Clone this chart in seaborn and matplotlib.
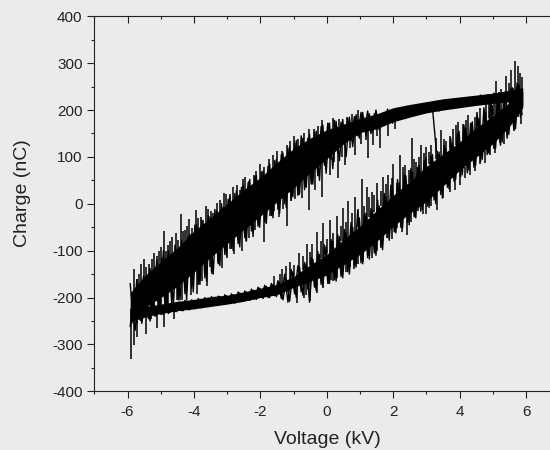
import matplotlib
matplotlib.use("Agg")
import matplotlib.pyplot as plt
from matplotlib.ticker import MultipleLocator
import seaborn as sns

# voltage grids, one entry per reading (kV)
volts_a = [
    -5.92, -5.82, -5.72, -5.62, -5.52, -5.42, -5.32, -5.22, -5.12, -5.02,
    -4.92, -4.82, -4.72, -4.62, -4.52, -4.42, -4.32, -4.22, -4.12, -4.02,
    -3.92, -3.82, -3.72, -3.62, -3.52, -3.42, -3.32, -3.22, -3.12, -3.02,
    -2.92, -2.82, -2.72, -2.62, -2.52, -2.42, -2.32, -2.22, -2.12, -2.02,
    -1.92, -1.82, -1.72, -1.62, -1.52, -1.42, -1.32, -1.22, -1.12, -1.02,
    -0.92, -0.82, -0.72, -0.62, -0.52, -0.42, -0.32, -0.22, -0.12, -0.02,
    0.08, 0.18, 0.28, 0.38, 0.48, 0.58, 0.68, 0.78, 0.88, 0.98,
    1.08, 1.18, 1.28, 1.38, 1.48, 1.58, 1.68, 1.78, 1.88, 1.98,
    2.08, 2.18, 2.28, 2.38, 2.48, 2.58, 2.68, 2.78, 2.88, 2.98,
    3.08, 3.18, 3.28, 3.38, 3.48, 3.58, 3.68, 3.78, 3.88, 3.98,
    4.08, 4.18, 4.28, 4.38, 4.48, 4.58, 4.68, 4.78, 4.88, 4.98,
    5.08, 5.18, 5.28, 5.38, 5.48, 5.58, 5.68, 5.78, 5.88,
]
volts_b = [
    -5.87, -5.77, -5.67, -5.57, -5.47, -5.37, -5.27, -5.17, -5.07, -4.97,
    -4.87, -4.77, -4.67, -4.57, -4.47, -4.37, -4.27, -4.17, -4.07, -3.97,
    -3.87, -3.77, -3.67, -3.57, -3.47, -3.37, -3.27, -3.17, -3.07, -2.97,
    -2.87, -2.77, -2.67, -2.57, -2.47, -2.37, -2.27, -2.17, -2.07, -1.97,
    -1.87, -1.77, -1.67, -1.57, -1.47, -1.37, -1.27, -1.17, -1.07, -0.97,
    -0.87, -0.77, -0.67, -0.57, -0.47, -0.37, -0.27, -0.17, -0.07, 0.03,
    0.13, 0.23, 0.33, 0.43, 0.53, 0.63, 0.73, 0.83, 0.93, 1.03,
    1.13, 1.23, 1.33, 1.43, 1.53, 1.63, 1.73, 1.83, 1.93, 2.03,
    2.13, 2.23, 2.33, 2.43, 2.53, 2.63, 2.73, 2.83, 2.93, 3.03,
    3.13, 3.23, 3.33, 3.43, 3.53, 3.63, 3.73, 3.83, 3.93, 4.03,
    4.13, 4.23, 4.33, 4.43, 4.53, 4.63, 4.73, 4.83, 4.93, 5.03,
    5.13, 5.23, 5.33, 5.43, 5.53, 5.63, 5.73, 5.83,
]

# charge on the rising sweep (nC)
rising_a = [
    -262, -205, -255, -200, -240, -205, -250, -208, -238, -212,
    -236, -216, -232, -212, -230, -210, -228, -208, -226, -206,
    -222, -204, -220, -202, -218, -200, -216, -198, -214, -196,
    -212, -194, -210, -190, -208, -188, -206, -184, -204, -180,
    -202, -176, -200, -172, -198, -168, -205, -160, -208, -145,
    -200, -135, -195, -128, -210, -118, -185, -108, -176, -92,
    -170, -80, -165, -70, -158, -62, -150, -50, -135, -30,
    -128, -20, -118, -15, -110, -5, -98, 15, -78, 30,
    -62, 45, -52, 60, -45, 68, -30, 82, -12, 98,
    -8, 105, 0, 110, 12, 118, 32, 130, 52, 155,
    62, 162, 72, 175, 82, 182, 95, 196, 108, 210,
    118, 225, 132, 240, 148, 248, 160, 255, 190,
]
rising_b = [
    -205, -270, -190, -255, -210, -245, -198, -240, -215, -236,
    -212, -234, -214, -230, -210, -228, -206, -226, -205, -224,
    -202, -222, -200, -219, -198, -216, -197, -214, -194, -210,
    -192, -212, -188, -207, -186, -204, -182, -203, -178, -199,
    -174, -200, -170, -196, -164, -202, -150, -210, -140, -192,
    -132, -188, -125, -182, -115, -178, -102, -172, -88, -168,
    -76, -162, -66, -155, -55, -145, -40, -132, -15, -126,
    -22, -115, -10, -105, 8, -90, 22, -72, 40, -60,
    52, -50, 62, -40, 75, -28, 78, -16, 92, -5,
    102, 8, 112, 20, 125, 35, 140, 48, 150, 58,
    168, 66, 172, 78, 190, 90, 205, 105, 220, 118,
    215, 125, 230, 140, 245, 160, 258, 185,
]

# charge on the falling sweep (nC), listed by rising voltage
falling_a = [
    -170, -250, -162, -248, -155, -240, -138, -232, -120, -228,
    -100, -222, -108, -215, -98, -205, -85, -205, -65, -188,
    -45, -172, -42, -165, -28, -150, -15, -132, -8, -110,
    15, -100, 28, -92, 40, -80, 52, -70, 60, -50,
    70, -42, 85, -30, 95, -20, 108, -8, 122, 15,
    135, 22, 140, 35, 148, 42, 155, 50, 168, 65,
    172, 75, 176, 92, 180, 100, 185, 122, 190, 140,
    195, 145, 192, 155, 200, 158, 192, 170, 198, 172,
    195, 180, 205, 182, 207, 190, 209, 192, 212, 196,
    214, 198, 215, 198, 218, 202, 220, 204, 222, 206,
    224, 208, 226, 210, 228, 212, 230, 214, 232, 216,
    234, 218, 236, 216, 240, 218, 242, 212, 246,
]
falling_b = [
    -255, -180, -245, -165, -238, -150, -232, -135, -225, -115,
    -220, -100, -212, -88, -205, -78, -192, -70, -180, -45,
    -172, -35, -158, -25, -145, -12, -128, 0, -108, 10,
    -95, 22, -85, 35, -72, 45, -58, 58, -48, 68,
    -38, 80, -25, 92, -12, 105, 0, 118, 8, 130,
    18, 145, 30, 140, 42, 152, 60, 165, 82, 172,
    95, 178, 108, 174, 125, 182, 135, 186, 145, 195,
    155, 198, 150, 192, 165, 188, 170, 202, 175, 196,
    178, 204, 185, 208, 188, 206, 192, 210, 195, 215,
    200, 212, 200, 218, 204, 216, 206, 222, 208, 222,
    210, 226, 212, 228, 214, 232, 216, 232, 218, 236,
    220, 234, 222, 238, 214, 240, 210, 244,
]

# solid part of each trace: where the scans overlap into black
band_volts = [-5.92, -5.5, -5, -4.5, -4, -3.5, -3, -2.5, -2, -1.5, -1, -0.5, 0,
              0.5, 1, 1.5, 2, 2.5, 3, 3.5, 4, 4.5, 5, 5.5, 5.9]
rising_low = [-252, -242, -234, -228, -224, -219, -214, -208, -200, -194, -178, -165, -152,
              -130, -108, -80, -48, -20, 5, 38, 72, 100, 128, 165, 205]
rising_high = [-222, -220, -214, -208, -204, -198, -195, -188, -180, -172, -155, -130, -108,
               -76, -48, -14, 18, 48, 80, 106, 132, 162, 188, 216, 240]
falling_low = [-240, -222, -200, -176, -146, -114, -85, -55, -26, 4, 34, 66, 96,
               128, 152, 160, 175, 185, 194, 200, 205, 210, 214, 218, 210]
falling_high = [-190, -155, -124, -94, -58, -30, 0, 30, 56, 88, 118, 140, 158,
                170, 182, 192, 205, 212, 218, 224, 228, 232, 236, 242, 247]

# single noise spikes sticking out of the bands: voltage, foot, tip
spike_volts = [
    -5.8, -5.65, -5.5, -5.35, -5.2, -5.05, -4.9, -4.78, -4.65, -4.55, -4.4, -4.28,
    -4.15, -3.95, -3.8, -3.65, -3.5, -3.3, -3.1, -2.9, -2.7, -2.45, -2.2, -2.0,
    -1.75, -1.5, -1.2, -1.0, -0.7, -0.4, -0.15, 0.2, 0.6, 0.95,
    -5.9, -5.8, -5.7, -5.45, -5.1, -4.9, -4.6, -4.35, -4.1, -3.9, -3.75, -3.6,
    -3.45, -3.15, -3.0, -2.8, -2.55, -2.35, -2.15, -1.9, -1.7, -1.45, -1.2, -0.95,
    -0.75, -0.55, -0.35, -0.15, 0.1, 0.35, 0.55, 0.85, 1.25, 1.4, 1.6, 1.85, 2.05,
    -1.6, -1.35, -1.1, -0.85, -0.6, -0.45, -0.3, -0.1, 0.1, 0.3, 0.5, 0.65, 0.85,
    1.07, 1.2, 1.35, 1.5, 1.7, 1.85, 2.0, 2.2, 2.35, 2.56, 2.7, 2.85, 3.0, 3.15,
    3.44, 3.6, 3.8, 3.95, 4.1, 4.25, 4.45, 4.6, 4.8, 4.95, 5.1, 5.25, 5.4, 5.55,
    5.68, 5.75, 5.82,
    -0.9, -0.7, -0.5, -0.3, 0.05, 0.2, 0.45, 0.7, 0.95, 1.25, 1.5, 1.8, 2.1, 2.4,
    2.75, 3.0, 3.33, 3.7, 4.0, 4.3, 4.6, 4.9, 5.2, 5.5, 5.75,
]
spike_foot = [
    -210, -200, -190, -185, -175, -165, -155, -150, -140, -135, -125, -120,
    -110, -100, -90, -82, -72, -60, -50, -35, -25, -10, 5, 15,
    30, 45, 65, 75, 90, 110, 120, 135, 150, 170,
    -225, -225, -225, -225, -225, -225, -215, -130, -115, -100, -95, -85,
    -70, -55, -45, -30, -15, -5, 5, 20, 30, 45, 65, 75,
    90, 100, 110, 120, 130, 145, 150, 165, 178, 178, 182, 190, 190,
    -185, -175, -170, -160, -145, -135, -125, -125, -125, -100, -95, -85, -75,
    -70, -60, -50, -40, -30, -20, -15, 0, 10, 20, 30, 35, 40, 50,
    70, 80, 90, 95, 100, 110, 125, 130, 140, 150, 160, 170, 180, 190,
    200, 210, 215,
    -165, -160, -150, -140, -130, -120, -110, -90, -80, -60, -40, -20, 0, 15,
    30, 40, 60, 85, 95, 110, 130, 150, 170, 190, 215,
]
spike_tip = [
    -140, -150, -118, -128, -105, -100, -57, -88, -70, -62, -22, -55,
    -32, -14, -28, -5, -15, 2, 22, 20, 40, 58, 62, 85,
    95, 112, 125, 145, 150, 160, 178, 182, 186, 200,
    -332, -302, -285, -277, -264, -262, -245, -205, -195, -193, -165, -176,
    -150, -138, -115, -108, -100, -72, -55, -82, -25, -28, -48, 10,
    12, -14, 30, 14, 62, 56, 82, 105, 97, 125, 118, 145, 160,
    -155, -140, -125, -105, -85, -85, -60, -42, -35, -25, -10, 5, 15,
    52, 35, 25, 45, 58, 62, 85, 105, 82, 140, 90, 125, 122, 125,
    157, 135, 160, 175, 170, 190, 185, 205, 215, 235, 262, 245, 272, 285,
    305, 295, 280,
    -212, -200, -208, -190, -172, -165, -152, -135, -128, -112, -100, -72, -52, -67,
    -16, -22, -14, 25, 40, 62, 85, 105, 130, 158, 185,
]

# shorter noise along each edge: (voltage, foot, tip)
falling_top_noise = [
    (-5.72, -190, -160), (-5.58, -175, -128), (-5.43, -160, -135), (-5.27, -150, -118),
    (-5.12, -135, -112), (-4.98, -130, -92), (-4.84, -120, -100), (-4.71, -110, -80),
    (-4.47, -100, -78), (-4.34, -90, -58), (-4.21, -80, -48), (-4.05, -70, -52),
    (-3.87, -60, -30), (-3.72, -50, -34), (-3.58, -45, -12), (-3.42, -35, -20),
    (-3.21, -20, 8), (-3.02, -5, 20), (-2.82, 5, 35), (-2.62, 15, 30),
    (-2.52, 25, 52), (-2.33, 35, 48), (-2.12, 45, 70), (-1.88, 60, 78),
    (-1.62, 75, 105), (-1.36, 95, 112), (-1.1, 110, 135), (-0.88, 120, 138),
    (-0.55, 135, 160), (-0.25, 145, 165), (0.05, 155, 172), (0.38, 165, 180),
    (0.75, 175, 192),
]
falling_bottom_noise = [
    (-5.6, -225, -250), (-5.3, -210, -245), (-5.0, -200, -238), (-4.78, -190, -225),
    (-4.52, -175, -205), (-4.25, -160, -178), (-4.02, -145, -168), (-3.82, -130, -150),
    (-3.52, -112, -135), (-3.28, -95, -125), (-3.08, -85, -102), (-2.9, -75, -96),
    (-2.68, -62, -78), (-2.42, -50, -80), (-2.25, -38, -52), (-2.05, -28, -45),
    (-1.82, -15, -40), (-1.58, 0, -15), (-1.33, 15, -12), (-1.08, 30, 5),
    (-0.85, 40, 18), (-0.62, 58, 36), (-0.45, 68, 46), (-0.25, 80, 60),
    (-0.02, 95, 72), (0.22, 110, 90), (0.45, 125, 100), (0.7, 140, 118),
    (1.02, 150, 128), (1.18, 157, 136), (1.5, 164, 145),
]
rising_top_noise = [
    (-1.42, -170, -150), (-1.22, -162, -132), (-0.98, -155, -130), (-0.72, -142, -112),
    (-0.52, -130, -102), (-0.18, -115, -80), (0.02, -105, -75), (0.2, -95, -62),
    (0.42, -80, -48), (0.58, -72, -38), (0.76, -60, -20), (0.95, -50, -12),
    (1.12, -40, -5), (1.28, -28, 15), (1.42, -18, 18), (1.62, -5, 28),
    (1.78, 5, 42), (1.95, 15, 55), (2.12, 25, 45), (2.28, 32, 78),
    (2.46, 45, 72), (2.62, 55, 95), (2.78, 65, 100), (2.93, 75, 108),
    (3.08, 85, 110), (3.28, 95, 140), (3.52, 108, 138), (3.72, 118, 145),
    (3.88, 125, 168), (4.18, 142, 178), (4.36, 152, 172), (4.53, 165, 195),
    (4.72, 175, 200), (4.87, 182, 225), (5.03, 190, 212), (5.18, 198, 238),
    (5.33, 208, 232), (5.48, 215, 258), (5.62, 222, 248), (5.88, 238, 270),
]
rising_bottom_noise = [
    (-0.62, -168, -195), (-0.12, -150, -180), (0.12, -140, -162), (0.3, -132, -158),
    (0.58, -125, -145), (0.82, -112, -140), (1.1, -100, -125), (1.35, -88, -115),
    (1.62, -70, -95), (1.95, -50, -75), (2.25, -30, -60), (2.55, -15, -38),
    (2.9, 0, -22), (3.15, 15, -5), (3.5, 38, 12), (3.85, 60, 30),
    (4.15, 78, 55), (4.45, 98, 70), (4.75, 112, 88), (5.05, 132, 108),
    (5.35, 155, 128), (5.65, 178, 155), (5.85, 198, 170),
]

# the one slanted excursion below the upper trace
slant_volts = [3.18, 3.3]
slant_charge = [205, 112]

sns.set_style("ticks")
plt.rcParams["font.family"] = ["Liberation Sans", "DejaVu Sans"]
plt.rcParams["axes.unicode_minus"] = False

bg = "#ebebeb"
ink = "#222222"
fig = plt.figure(figsize=(5.5, 4.5), dpi=100, facecolor=bg)
# right spine sits past the edge of the canvas, as in the original crop
ax = fig.add_axes([94.3 / 550, 1 - 391.3 / 450, 465 / 550, 375 / 450], facecolor=bg)

ax.fill_between(band_volts, rising_low, rising_high, color="black", linewidth=0)
ax.fill_between(band_volts, falling_low, falling_high, color="black", linewidth=0)

sweeps = [
    (volts_a, rising_a),
    (volts_b, rising_b),
    (volts_a, falling_a),
    (volts_b, falling_b),
    (slant_volts, slant_charge),
]
for volts, charge in sweeps:
    sns.lineplot(x=volts, y=charge, sort=False, estimator=None,
                 color="black", linewidth=1.0, ax=ax)
ax.vlines(spike_volts, spike_foot, spike_tip, color="black", linewidth=1.1)
for noise in [falling_top_noise, falling_bottom_noise, rising_top_noise, rising_bottom_noise]:
    v, foot, tip = zip(*noise)
    ax.vlines(v, foot, tip, color="black", linewidth=1.1)

ax.set_xlim(-7, 7)
ax.set_ylim(-400, 400)
ax.xaxis.set_major_locator(MultipleLocator(2))
ax.xaxis.set_minor_locator(MultipleLocator(1))
ax.yaxis.set_major_locator(MultipleLocator(100))
ax.yaxis.set_minor_locator(MultipleLocator(50))

ax.tick_params(axis="x", which="major", direction="out", length=5, width=0.8,
               color=ink, labelsize=11, pad=5, labelcolor=ink)
ax.tick_params(axis="x", which="minor", direction="out", length=2.5, width=0.8, color=ink)
ax.tick_params(axis="y", which="major", direction="out", length=5, width=0.8,
               color=ink, labelsize=11, pad=3.5, labelcolor=ink)
ax.tick_params(axis="y", which="minor", direction="out", length=2.5, width=0.8, color=ink)

for side in ["left", "bottom", "top"]:
    ax.spines[side].set_visible(True)
    ax.spines[side].set_linewidth(0.8)
    ax.spines[side].set_color(ink)
ax.spines["right"].set_visible(False)

# inward ticks along the top edge
top = ax.secondary_xaxis("top")
top.set_xticks([-6, -4, -2, 0, 2, 4, 6])
top.xaxis.set_minor_locator(MultipleLocator(1))
top.tick_params(axis="x", which="major", direction="in", length=5, width=0.8,
                color=ink, labeltop=False)
top.tick_params(axis="x", which="minor", direction="in", length=2.5, width=0.8, color=ink)
top.spines["top"].set_visible(False)

ax.set_xlabel("Voltage (kV)", fontsize=14, color=ink, va="center")
ax.set_ylabel("Charge (nC)", fontsize=14, color=ink, va="center")
ax.xaxis.set_label_coords((327 - 94.3) / 465, -(440 - 391.3) / 375)
ax.yaxis.set_label_coords((23 - 94.3) / 465, (391.3 - 193) / 375)

fig.savefig("out.png", dpi=100, facecolor=bg)
